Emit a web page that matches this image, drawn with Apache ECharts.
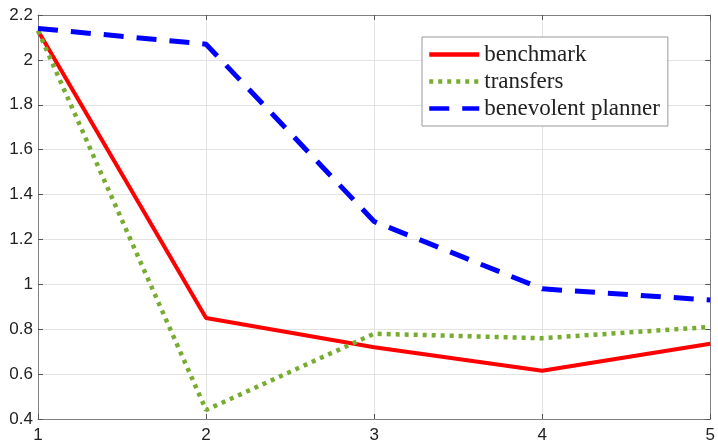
<!DOCTYPE html>
<html>
<head>
<meta charset="utf-8">
<style>
  html, body { margin: 0; padding: 0; background: #fff; }
  #chart { width: 718px; height: 444px; }
</style>
<script src="https://cdn.jsdelivr.net/npm/echarts@6/dist/echarts.min.js"></script>
</head>
<body>
<div id="chart"></div>
<script>
// Horizon (periods) on the x axis
const periods = [1, 2, 3, 4, 5];
// Outcome under each regime
const benchmark = [2.13, 0.85, 0.72, 0.615, 0.735];
const transfers = [2.13, 0.44, 0.78, 0.76, 0.81];
const planner = [2.14, 2.07, 1.28, 0.98, 0.93];
const seriesNames = ['benchmark', 'transfers', 'benevolent planner'];

const pairs = vals => periods.map((p, i) => [p, vals[i]]);
const fmtY = v => String(Math.round(v * 10) / 10);

const axisLine = { show: true, lineStyle: { color: '#808080', width: 1 } };
const tick = { show: true, inside: true, length: 5, lineStyle: { color: '#555' } };
const labelFont = { color: '#222', fontFamily: 'Liberation Sans, Arial, sans-serif', fontSize: 17 };

const chart = echarts.init(document.getElementById('chart'));
chart.setOption({
  animation: false,
  backgroundColor: '#fff',
  grid: { left: 38, right: 6, top: 15, bottom: 24 },
  xAxis: [
    {
      type: 'value', min: 1, max: 5, interval: 1,
      axisLine, axisTick: tick,
      axisLabel: Object.assign({ margin: 8 }, labelFont),
      splitLine: { show: true, lineStyle: { color: '#e3e3e3' } }
    },
    {
      type: 'value', min: 1, max: 5, interval: 1, position: 'top',
      axisLine, axisTick: tick, axisLabel: { show: false }, splitLine: { show: false }
    }
  ],
  yAxis: [
    {
      type: 'value', min: 0.4, max: 2.2, interval: 0.2,
      axisLine, axisTick: tick,
      axisLabel: Object.assign({ margin: 5, formatter: fmtY }, labelFont),
      splitLine: { show: true, lineStyle: { color: '#e3e3e3' } }
    },
    {
      type: 'value', min: 0.4, max: 2.2, interval: 0.2, position: 'right',
      axisLine, axisTick: tick, axisLabel: { show: false }, splitLine: { show: false }
    }
  ],
  legend: {
    left: 422, top: 37,
    orient: 'vertical',
    backgroundColor: '#fff',
    borderColor: '#999', borderWidth: 1,
    padding: [6, 8, 6, 5],
    itemGap: 4,
    itemWidth: 50, itemHeight: 20,
    itemStyle: { opacity: 0 },
    lineStyle: { width: 4.5 },
    textStyle: { fontFamily: 'Liberation Serif, Times New Roman, serif', fontSize: 23, color: '#222' },
    data: seriesNames
  },
  series: [
    {
      name: seriesNames[0], type: 'line', data: pairs(benchmark),
      showSymbol: false, symbol: 'none', z: 3,
      lineStyle: { color: '#ff0000', width: 4, type: 'solid' },
      itemStyle: { color: '#ff0000' }
    },
    {
      name: seriesNames[1], type: 'line', data: pairs(transfers),
      showSymbol: false, symbol: 'none', z: 4,
      lineStyle: { color: '#77ac30', width: 4.5, type: [4, 5], cap: 'butt' },
      itemStyle: { color: '#77ac30' }
    },
    {
      name: seriesNames[2], type: 'line', data: pairs(planner),
      showSymbol: false, symbol: 'none', z: 5,
      lineStyle: { color: '#0000ff', width: 5, type: [20, 13], cap: 'butt' },
      itemStyle: { color: '#0000ff' }
    }
  ]
});
</script>
</body>
</html>
